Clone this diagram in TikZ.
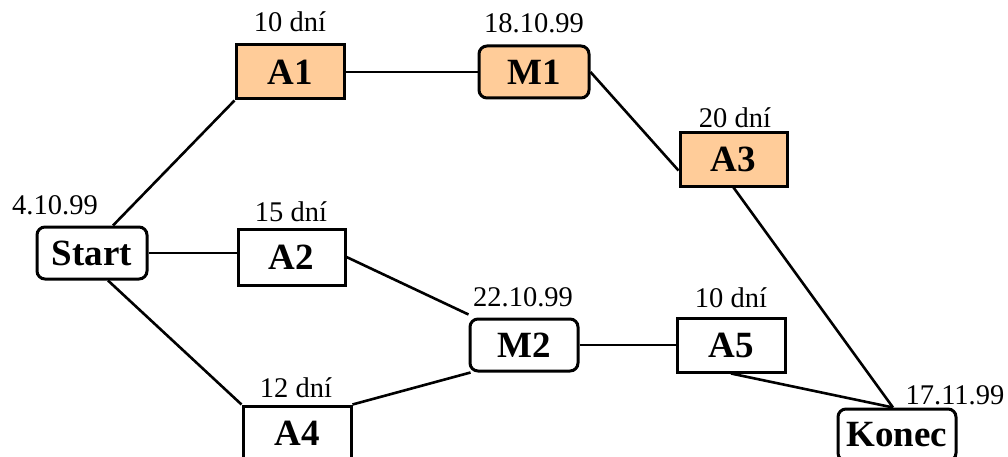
\documentclass[tikz,border=0pt]{standalone}
\usepackage{fontspec}
\setmainfont{Liberation Serif}
\usetikzlibrary{calc}
\definecolor{crit}{HTML}{FFCC99}
\begin{document}
\begin{tikzpicture}[x=1pt,y=-1pt,
  box/.style={draw=black,line width=3pt,inner sep=0pt,font=\fontsize{37}{37}\selectfont\bfseries},
  act/.style={box},
  mil/.style={box,rounded corners=8pt},
  hot/.style={fill=crit},
  lab/.style={inner sep=0pt,font=\fontsize{28.5}{28.5}\selectfont},
  link/.style={line width=2.6pt}]
\useasboundingbox (0,0) rectangle (1008,457);
\clip (0,0) rectangle (1008,457);
% nodes
\node[mil,minimum width=110pt,minimum height=52pt] (Start) at (92,253) {Start};
\node[act,minimum width=107pt,minimum height=56pt] (A2) at (291.5,257) {A2};
\node[act,hot,minimum width=108pt,minimum height=54pt] (A1) at (290,72) {A1};
\node[mil,hot,minimum width=110pt,minimum height=52pt] (M1) at (534,72) {M1};
\node[act,hot,minimum width=107pt,minimum height=53pt] (A3) at (733.5,159.5) {A3};
\node[mil,minimum width=108pt,minimum height=52pt] (M2) at (524,345) {M2};
\node[act,minimum width=108pt,minimum height=54pt] (A5) at (731,345) {A5};
\node[act,minimum width=108pt,minimum height=54pt] (A4) at (297,433) {A4};
\node[mil,minimum width=118pt,minimum height=52pt] (Konec) at (897,435) {Konec};
% labels
\node[lab] (lA1) at (290,22) {10 dní};
\node[lab] (lM1) at (534,23) {18.10.99};
\node[lab] (lA3) at (735,118) {20 dní};
\node[lab] (lS) at (55,205) {4.10.99};
\node[lab] (lA2) at (291,212) {15 dní};
\node[lab] (lM2) at (523,297) {22.10.99};
\node[lab] (lA5) at (731,298) {10 dní};
\node[lab] (lA4) at (296,388) {12 dní};
\node[lab] (lK) at (955,395) {17.11.99};
% connectors
\draw[link] ([xshift=21pt]Start.north) -- (A1.south west);
\draw[link] (Start.east) -- (Start.east -| A2.west);
\draw[link] ([xshift=16pt]Start.south) -- (A4.north west);
\draw[link] (A1.east) -- (M1.west);
\draw[link] (M1.east) -- ([yshift=-11pt]A3.west);
\draw[link] (A2.east) -- ([yshift=3pt]M2.north west);
\draw[link] (A4.north east) -- ([xshift=2pt]M2.south west);
\draw[link] (M2.east) -- (A5.west);
\draw[link] (A3.south) -- ([xshift=-4pt]Konec.north);
\draw[link] (A5.south) -- ([xshift=-4pt]Konec.north);
\end{tikzpicture}
\end{document}
